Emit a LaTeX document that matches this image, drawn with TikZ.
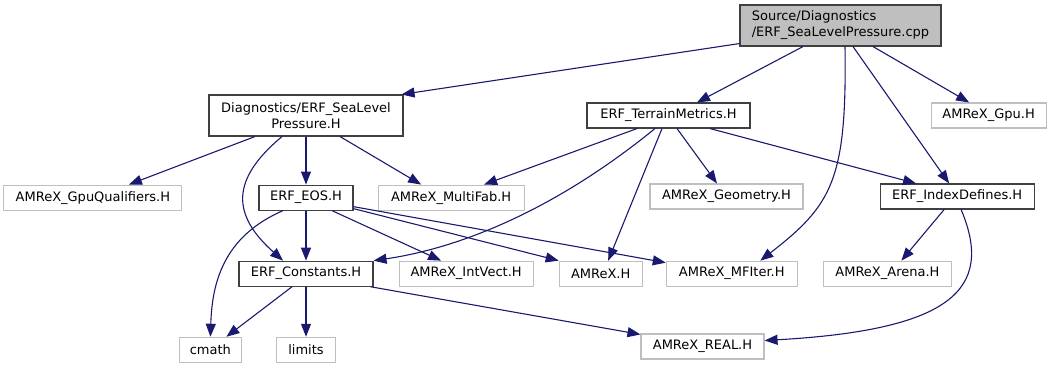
\documentclass[tikz,border=0pt]{standalone}
\usepackage{fontspec}
\setmainfont{DejaVu Sans}
\usepackage{tikz}
\usetikzlibrary{arrows.meta, positioning}
\definecolor{edgeblue}{HTML}{191970}
\definecolor{linkgray}{HTML}{404040}
\definecolor{extgray}{HTML}{BFBFBF}

\begin{document}
\begin{tikzpicture}[x=1pt, y=1pt,
    hdr/.style={draw=linkgray, fill=white, line width=1.1pt, inner sep=0pt, minimum height=25pt, align=center, font=\fontsize{13}{16}\selectfont},
    ext/.style={hdr, draw=extgray},
    arr/.style={-{Triangle[length=13pt, width=10pt]}, draw=edgeblue, line width=1.1pt}
]
\useasboundingbox (0,0) rectangle (1051,365);
% top row
\node[hdr, fill=extgray, align=left, minimum width=201pt, minimum height=41pt] (root) at (840.5,339.5)
      {Source/Diagnostics\\/ERF\_SeaLevelPressure.cpp};
% second row
\node[hdr, minimum width=194pt, minimum height=41pt] (slp) at (306,249.5) {Diagnostics/ERF\_SeaLevel\\Pressure.H};
\node[hdr, minimum width=163pt] (terrain) at (668.5,249.5) {ERF\_TerrainMetrics.H};
\node[ext, minimum width=115pt, right=180pt of terrain] (gpu) {AMReX\_Gpu.H};
% third row
\node[hdr, minimum width=94pt, below=48pt of slp] (eos) {ERF\_EOS.H};
\node[ext, minimum width=178pt, left=76pt of eos] (gpuq) {AMReX\_GpuQualifiers.H};
\node[ext, minimum width=146pt, right=24pt of eos] (mfab) {AMReX\_MultiFab.H};
\node[ext, minimum width=153pt] (geom) at (726.5,168.5) {AMReX\_Geometry.H};
\node[hdr, minimum width=154pt, right=76pt of geom] (idx) {ERF\_IndexDefines.H};
% fourth row
\node[hdr, minimum width=134pt, below=50pt of eos] (consts) {ERF\_Constants.H};
\node[ext, minimum width=134pt, right=25pt of consts] (ivect) {AMReX\_IntVect.H};
\node[ext, minimum width=83pt, right=25pt of ivect] (amrex) {AMReX.H};
\node[ext, minimum width=131pt, right=23pt of amrex] (mfiter) {AMReX\_MFIter.H};
\node[ext, minimum width=128pt, right=25pt of mfiter] (arena) {AMReX\_Arena.H};
% bottom row
\node[ext, minimum width=59pt, below=50pt of consts] (limits) {limits};
\node[ext, minimum width=62pt, left=34pt of limits] (cmath) {cmath};
\node[ext, minimum width=123pt] (real) at (702.5,18.5) {AMReX\_REAL.H};

% includes of the source file
\draw[arr] ([yshift=3pt]root.south west) -- ([xshift=-2pt]slp.north east);
\draw[arr] ([xshift=-37.5pt]root.south) -- ([xshift=28.5pt]terrain.north);
\draw[arr] ([xshift=4.5pt]root.south) .. controls (847,185) and (832,160) .. ([xshift=28.5pt]mfiter.north);
\draw[arr] ([xshift=12.5pt]root.south) -- ([xshift=-8pt]idx.north);
\draw[arr] ([xshift=32.5pt]root.south) -- ([xshift=-19.5pt]gpu.north);
% includes of the header
\draw[arr] ([xshift=-51pt]slp.south) -- ([xshift=36pt]gpuq.north);
\draw[arr] (slp.south) -- (eos.north);
\draw[arr] ([xshift=-24pt]slp.south) .. controls (230,185) and (232,150) .. ([xshift=-23pt]consts.north);
\draw[arr] ([xshift=34pt]slp.south) -- ([xshift=-30pt]mfab.north);
% terrain metrics
\draw[arr] ([xshift=-31.5pt]terrain.south) -- ([xshift=33pt]mfab.north);
\draw[arr] ([xshift=-13.5pt]terrain.south) .. controls (555,155) and (460,117) .. (consts.north east);
\draw[arr] ([xshift=-6.5pt]terrain.south) -- ([xshift=7.5pt]amrex.north);
\draw[arr] ([xshift=8.5pt]terrain.south) -- ([xshift=-9.5pt]geom.north);
\draw[arr] ([xshift=41.5pt]terrain.south) -- ([xshift=-41pt]idx.north);
% equation of state
\draw[arr] ([xshift=-23pt]eos.south) .. controls (222,128) and (212,80) .. (cmath.north);
\draw[arr] (eos.south) -- (consts.north);
\draw[arr] ([xshift=26pt]eos.south) -- ([xshift=-25pt]ivect.north);
\draw[arr] ([yshift=2pt]eos.south east) -- (amrex.north west);
\draw[arr] ([yshift=4pt]eos.south east) -- ([yshift=-2pt]mfiter.north west);
% constants and index defines
\draw[arr] ([xshift=-14pt]consts.south) -- ([xshift=16pt]cmath.north);
\draw[arr] (consts.south) -- (limits.north);
\draw[arr] ([xshift=-3pt]consts.south east) -- ([yshift=-1pt]real.north west);
\draw[arr] ([xshift=-13pt]idx.south) -- ([xshift=14pt]arena.north);
\draw[arr] ([xshift=4pt]idx.south) .. controls (995,75) and (950,35) .. ([yshift=6pt]real.east);
\end{tikzpicture}
\end{document}
